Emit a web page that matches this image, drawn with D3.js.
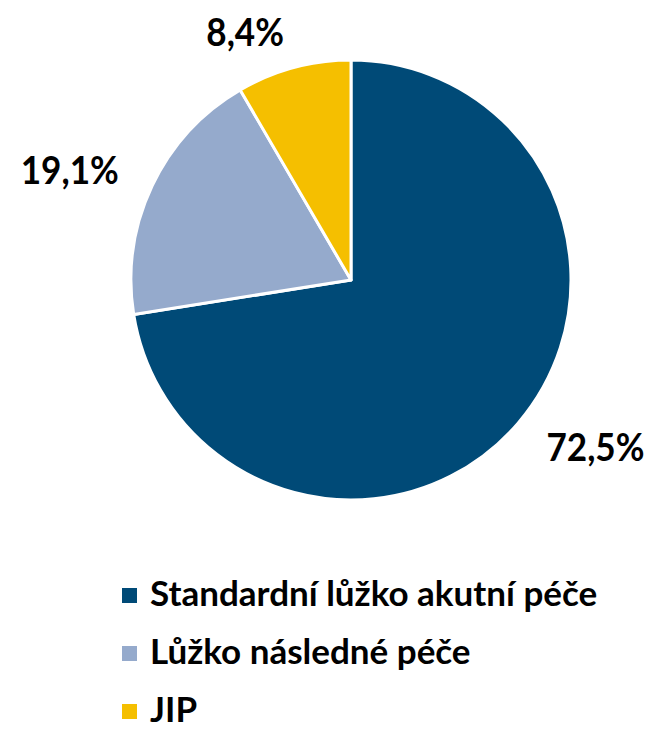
<!DOCTYPE html>
<html>
<head>
<meta charset="utf-8">
<script src="https://cdn.jsdelivr.net/npm/d3@7"></script>
<style>
  body { margin: 0; background: #fff; }
  text { font-family: Lato, "Noto Sans", sans-serif; font-weight: bold; fill: #000; }
</style>
</head>
<body>
<svg id="chart" width="649" height="729"></svg>
<script>
// data
var categories = ["Standardní lůžko akutní péče", "Lůžko následné péče", "JIP"];
var values = [72.5, 19.1, 8.4];
var labels = ["72,5%", "19,1%", "8,4%"];
var colors = ["#004a77", "#95aacc", "#f5bf00"];

var svg = d3.select("#chart");
var cx = 351, cy = 280, radius = 220;

var pie = d3.pie().sort(null).value(function (d) { return d; });
var arcs = pie(values);

var arc = d3.arc().innerRadius(0).outerRadius(radius);
var labelArc = d3.arc().innerRadius(radius + 37).outerRadius(radius + 37);

var g = svg.append("g").attr("transform", "translate(" + cx + "," + cy + ")");

g.selectAll("path")
  .data(arcs)
  .enter()
  .append("path")
  .attr("d", arc)
  .attr("fill", function (d, i) { return colors[i]; })
  .attr("stroke", "#fff")
  .attr("stroke-width", 3)
  .attr("stroke-linejoin", "round");

// data labels outside the slices (slightly condensed to look like Calibri)
g.selectAll(".lbl")
  .data(arcs)
  .enter()
  .append("text")
  .attr("class", "lbl")
  .attr("transform", function (d) { return "translate(" + labelArc.centroid(d) + ") scale(0.9,1)"; })
  .attr("text-anchor", function (d) {
    var mid = (d.startAngle + d.endAngle) / 2;
    return mid < Math.PI ? "start" : "end";
  })
  .attr("dy", "0.35em")
  .style("font-size", "39px")
  .text(function (d, i) { return labels[i]; });

// legend
var legend = svg.append("g").attr("transform", "translate(122,595)");
var rows = legend.selectAll("g")
  .data(categories)
  .enter()
  .append("g")
  .attr("transform", function (d, i) { return "translate(0," + (i * 58) + ")"; });

rows.append("rect")
  .attr("x", 0).attr("y", -7)
  .attr("width", 15).attr("height", 15)
  .attr("fill", function (d, i) { return colors[i]; });

rows.append("text")
  .attr("x", 28)
  .attr("dy", "0.3em")
  .style("font-size", "35px")
  .text(function (d) { return d; });
</script>
</body>
</html>
